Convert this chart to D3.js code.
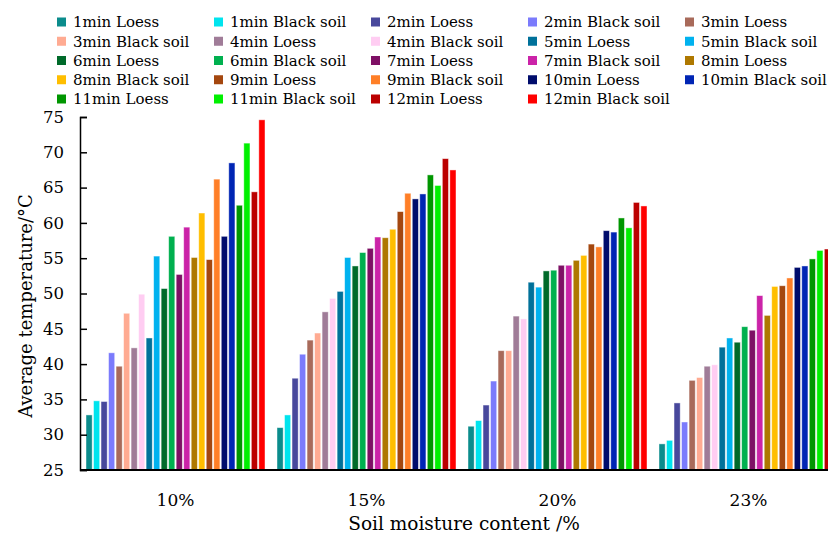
<!DOCTYPE html>
<html>
  <head>
    <meta charset="utf-8" />
    <script src="https://d3js.org/d3.v7.min.js"></script>
    <style>
      body { margin: 0; background: #fff; }
      svg { display: block; font-family: "DejaVu Serif", serif; }
    </style>
  </head>
  <body>
    <svg id="chart"></svg>
    <script>
      // data
      const groups = ["10%", "15%", "20%", "23%"];
      const seriesNames = [
        "1min Loess", "1min Black soil", "2min Loess", "2min Black soil", "3min Loess",
        "3min Black soil", "4min Loess", "4min Black soil", "5min Loess", "5min Black soil",
        "6min Loess", "6min Black soil", "7min Loess", "7min Black soil", "8min Loess",
        "8min Black soil", "9min Loess", "9min Black soil", "10min Loess", "10min Black soil",
        "11min Loess", "11min Black soil", "12min Loess", "12min Black soil"
      ];
      const colors = [
        "#0b8c8c", "#00e4ee", "#48489c", "#7b7bfc", "#a86a5a",
        "#ffab92", "#a07c98", "#ffcdf2", "#00719a", "#00b2ef",
        "#006a2a", "#00b04f", "#7e1065", "#cb23a8", "#ae7800",
        "#ffbe00", "#a4470f", "#ff7f27", "#000c6c", "#0025b4",
        "#009600", "#00f000", "#bb0000", "#ff0000"
      ];
      const moisture10 = [32.8, 34.8, 34.7, 41.6, 39.7, 47.2, 42.3, 49.9, 43.7, 55.3, 50.7, 58.1,
        52.7, 59.4, 55.1, 61.4, 54.8, 66.2, 58.1, 68.5, 62.5, 71.3, 64.4, 74.6];
      const moisture15 = [31.0, 32.8, 38.0, 41.4, 43.4, 44.4, 47.4, 49.3, 50.3, 55.1, 53.9, 55.8,
        56.4, 58.0, 57.9, 59.1, 61.6, 64.2, 63.4, 64.1, 66.8, 65.3, 69.1, 67.5];
      const moisture20 = [31.2, 32.0, 34.2, 37.6, 41.9, 41.9, 46.8, 46.4, 51.6, 50.9, 53.2, 53.3,
        54.0, 54.0, 54.7, 55.4, 57.0, 56.6, 58.9, 58.7, 60.7, 59.3, 62.9, 62.4];
      const moisture23 = [28.7, 29.2, 34.5, 31.8, 37.7, 38.1, 39.7, 39.9, 42.4, 43.7, 43.1, 45.3,
        44.8, 49.7, 46.9, 51.0, 51.1, 52.2, 53.7, 53.9, 54.9, 56.1, 56.3, 57.0];
      const yTicks = [25, 30, 35, 40, 45, 50, 55, 60, 65, 70, 75];

      const table = [moisture10, moisture15, moisture20, moisture23].map((vals, gi) => ({
        group: groups[gi],
        values: vals.map((v, si) => ({ name: seriesNames[si], value: v, color: colors[si] }))
      }));

      const width = 828, height = 541;
      const svg = d3.select("#chart").attr("width", width).attr("height", height);

      const y = d3.scaleLinear().domain([25, 75]).range([470, 117]);
      const x0 = d3.scaleBand().domain(groups).range([80, 844]).padding(0);
      const x1 = d3.scaleBand().domain(seriesNames).range([6, 185]).paddingInner(0.18);

      // bars
      const g = svg.append("g")
        .selectAll("g")
        .data(table)
        .join("g")
        .attr("transform", d => `translate(${x0(d.group)},0)`);

      g.selectAll("rect")
        .data(d => d.values)
        .join("rect")
        .attr("x", d => x1(d.name))
        .attr("width", x1.bandwidth())
        .attr("y", d => y(d.value))
        .attr("height", d => y(25) - y(d.value))
        .attr("fill", d => d.color)
        .attr("stroke", "#ffffff")
        .attr("stroke-opacity", 0.55)
        .attr("stroke-width", 0.8);

      // y axis, ticks pointing inward
      const gy = svg.append("g")
        .attr("transform", "translate(80,0)")
        .call(d3.axisLeft(y).tickValues(yTicks).tickSize(-7).tickPadding(16));
      gy.select(".domain").attr("stroke", "#000").attr("stroke-width", 1.5);
      gy.selectAll(".tick line").attr("stroke", "#000").attr("stroke-width", 1.5);
      gy.selectAll(".tick text")
        .attr("font-family", "DejaVu Serif")
        .attr("font-size", "16.5px")
        .attr("fill", "#000");

      // x axis line
      svg.append("line")
        .attr("x1", 80).attr("x2", 828)
        .attr("y1", y(25)).attr("y2", y(25))
        .attr("stroke", "#000").attr("stroke-width", 1.8);

      svg.append("g")
        .selectAll("text")
        .data(groups)
        .join("text")
        .attr("x", d => x0(d) + x0.bandwidth() / 2)
        .attr("y", 506)
        .attr("text-anchor", "middle")
        .attr("font-size", "17px")
        .text(d => d);

      svg.append("text")
        .attr("x", 464)
        .attr("y", 530)
        .attr("text-anchor", "middle")
        .attr("font-size", "18.5px")
        .text("Soil moisture content /%");

      svg.append("text")
        .attr("transform", "translate(32,306) rotate(-90)")
        .attr("text-anchor", "middle")
        .attr("font-size", "18px")
        .text("Average temperature/°C");

      // legend, 5 columns
      const legend = svg.append("g")
        .selectAll("g")
        .data(seriesNames)
        .join("g")
        .attr("transform", (d, i) => `translate(${57 + (i % 5) * 157},${22 + Math.floor(i / 5) * 19.25})`);

      legend.append("rect")
        .attr("x", 0).attr("y", -4.5)
        .attr("width", 9).attr("height", 9)
        .attr("fill", (d, i) => colors[i]);

      legend.append("text")
        .attr("x", 16)
        .attr("dy", "0.35em")
        .attr("font-size", "15px")
        .text(d => d);
    </script>
  </body>
</html>
